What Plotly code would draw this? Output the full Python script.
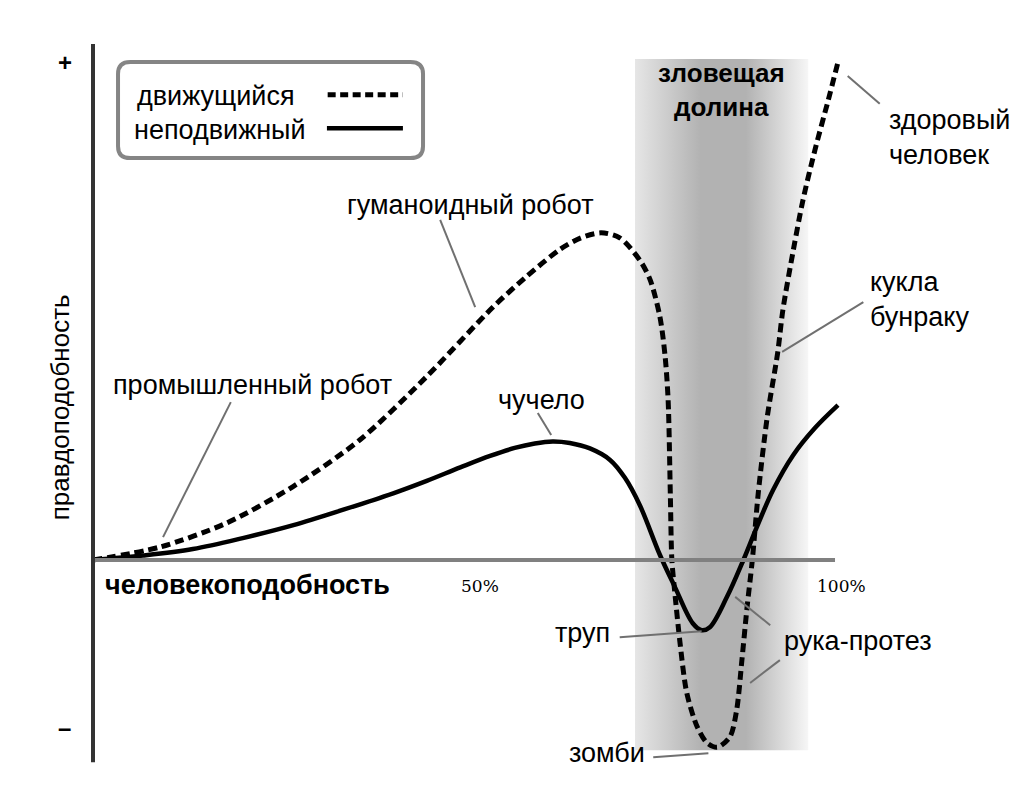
import plotly.graph_objects as go

# humanlikeness (%) and familiarity for the two curves
moving_x = [0, 9.0, 17.9, 26.8, 35.8, 44.7, 53.7, 58.1, 62.7, 65.5, 68.2, 70.7, 73.4, 74.8,
            76.1, 76.8, 77.2, 77.5, 77.7, 78.1, 78.8, 79.7, 81.1, 82.4, 83.8, 85.5, 86.4,
            87.1, 87.8, 88.5, 89.3, 90.5, 91.9, 92.6, 94.0, 95.3, 96.9, 98.7, 100]
moving_y = [0, 2.6, 7.4, 14.7, 24.1, 36.7, 50.8, 56.8, 62.4, 64.7, 65.7, 64.7, 60.2, 56.2,
            48.8, 40.8, 32.1, 12.7, 0, -6.6, -16.7, -26.7, -33.5, -36.7, -37.6, -35.5, -30.1,
            -20.1, -9.4, 0, 13.5, 28.7, 41.6, 50.2, 62.2, 72.3, 82.3, 92.4, 100]

still_x = [0, 6.7, 13.4, 20.1, 26.9, 33.6, 40.3, 44.8, 49.3, 53.3, 56.6, 59.3, 61.7, 64.0,
           66.7, 69.4, 71.4, 73.4, 76.1, 78.1, 80.5, 81.7, 82.8, 85.1, 87.3, 89.1, 91.3,
           94.0, 96.9, 100]
still_y = [0, 0.9, 2.2, 4.4, 7.0, 10.1, 13.4, 15.9, 18.6, 20.9, 22.5, 23.4, 23.8, 23.5,
           22.4, 20.1, 16.5, 11.0, 1.0, -5.4, -12.7, -14.1, -13.5, -7.4, 0, 6.6, 14.1,
           21.1, 26.5, 31.1]

valley_x = [72.75, 96.0]
valley_y = [-38.2, 100.6]

# labels: text, x, y, anchor
labels = [
    ("промышленный робот", 2.4, 35.1, "left"),
    ("гуманоидный робот", 33.8, 71.3, "left"),
    ("чучело", 54.1, 32.1, "left"),
    ("здоровый<br>человек", 106.6, 84.9, "left"),
    ("кукла<br>бунраку", 104.0, 52.3, "left"),
    ("труп", 69.7, -14.7, "right"),
    ("рука-протез", 92.5, -16.3, "left"),
    ("зомби", 74.4, -38.8, "right"),
]
# leader lines: (label end x, y) -> (curve x, y)
leaders = [
    (18.5, 31.7, 9.4, 4.6),
    (46.6, 68.3, 51.3, 50.8),
    (59.7, 29.5, 61.5, 25.1),
    (105.6, 91.6, 101.3, 97.2),
    (103.4, 51.8, 92.5, 41.8),
    (70.7, -15.5, 81.7, -14.3),
    (90.9, -13.1, 86.2, -7.4),
    (92.2, -20.1, 88.2, -24.7),
    (75.2, -39.6, 82.6, -38.8),
]

FONT = "Liberation Sans, Arial, sans-serif"

fig = go.Figure()

fig.add_trace(go.Scatter(
    x=[valley_x[0], valley_x[1], valley_x[1], valley_x[0], valley_x[0]],
    y=[valley_y[0], valley_y[0], valley_y[1], valley_y[1], valley_y[0]],
    mode="lines", line=dict(width=0), fill="toself",
    fillgradient=dict(type="horizontal", colorscale=[
        [0, "#e6e6e6"], [0.38, "#b2b2b2"], [0.64, "#b2b2b2"], [1, "#f6f6f6"]]),
    hoverinfo="skip", showlegend=False))

fig.add_trace(go.Scatter(
    x=still_x, y=still_y, mode="lines", name="неподвижный",
    line=dict(color="black", width=4.5, shape="spline", smoothing=1),
    showlegend=False))
fig.add_trace(go.Scatter(
    x=moving_x, y=moving_y, mode="lines", name="движущийся",
    line=dict(color="black", width=5, dash="9px,5px", shape="spline", smoothing=0.8),
    showlegend=False))

shapes = [
    # axes
    dict(type="line", x0=0, x1=99.6, y0=0, y1=0, line=dict(color="#808080", width=4)),
    dict(type="line", x0=0, x1=0, y0=-40.6, y1=103.6, line=dict(color="#333333", width=4)),
    # legend box
    dict(type="path", line=dict(color="#858585", width=4),
         path="M 5.0,100 L 42.6,100 Q 44.3,100 44.3,97.6 L 44.3,83.1 Q 44.3,80.7 42.6,80.7 "
              "L 5.0,80.7 Q 3.36,80.7 3.36,83.1 L 3.36,97.6 Q 3.36,100 5.0,100 Z"),
    dict(type="line", x0=31.5, x1=41.6, y0=93.4, y1=93.4,
         line=dict(color="black", width=5, dash="8px,4.5px")),
    dict(type="line", x0=31.4, x1=41.6, y0=86.7, y1=86.7,
         line=dict(color="black", width=4.5)),
]
for x0, y0, x1, y1 in leaders:
    shapes.append(dict(type="line", x0=x0, y0=y0, x1=x1, y1=y1,
                       line=dict(color="#707070", width=2)))

annotations = []
for text, x, y, anchor in labels:
    annotations.append(dict(x=x, y=y, text=text, showarrow=False, xanchor=anchor,
                            align="left", font=dict(size=27, color="black", family=FONT)))
annotations += [
    dict(x=1.3, y=-5.0, text="<b>человекоподобность</b>", showarrow=False, xanchor="left",
         font=dict(size=27, color="black", family=FONT)),
    dict(x=-4.4, y=30.7, text="правдоподобность", textangle=-90, showarrow=False,
         font=dict(size=26, color="black", family=FONT)),
    dict(x=84.4, y=94.3, text="<b>зловещая<br>долина</b>", showarrow=False,
         font=dict(size=26, color="black", family=FONT)),
    dict(x=-3.8, y=100, text="<b>+</b>", showarrow=False,
         font=dict(size=24, color="black", family=FONT)),
    dict(x=-3.8, y=-33.7, text="<b>–</b>", showarrow=False,
         font=dict(size=24, color="black", family=FONT)),
    dict(x=51.9, y=-5.2, text="50%", showarrow=False,
         font=dict(size=17, color="black", family="DejaVu Serif, serif")),
    dict(x=100.5, y=-5.2, text="100%", showarrow=False,
         font=dict(size=17, color="black", family="DejaVu Serif, serif")),
    dict(x=5.6, y=93.2, text="движущийся", showarrow=False, xanchor="left",
         font=dict(size=27, color="black", family=FONT)),
    dict(x=5.2, y=86.3, text="неподвижный", showarrow=False, xanchor="left",
         font=dict(size=27, color="black", family=FONT)),
]

# page body adds an 8px offset, so the figure is 1016x792 and the ranges are shifted to match
fig.update_layout(
    width=1016, height=792,
    margin=dict(l=0, r=0, t=0, b=0),
    paper_bgcolor="white", plot_bgcolor="white",
    xaxis=dict(range=[-11.409, 124.966], visible=False, fixedrange=True),
    yaxis=dict(range=[-48.193, 110.843], visible=False, fixedrange=True),
    shapes=shapes, annotations=annotations,
    showlegend=False,
)

fig.write_html("out.html")
